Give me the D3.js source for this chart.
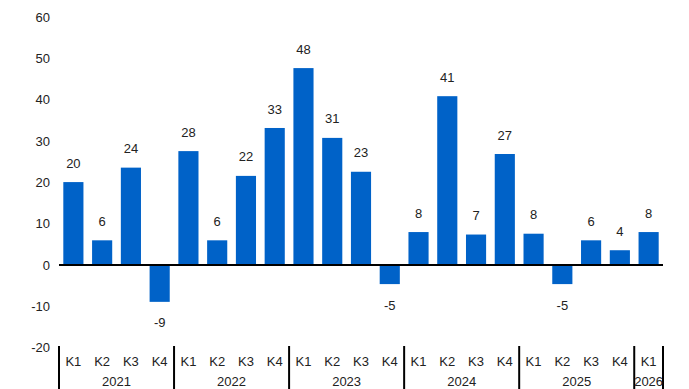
<!DOCTYPE html>
<html><head><meta charset="utf-8">
<script src="https://cdn.jsdelivr.net/npm/d3@7"></script>
<style>
html,body{margin:0;padding:0;background:#fff;}
svg text{font-family:"Liberation Sans",Arial,Helvetica,sans-serif;font-size:13px;fill:#222;}
</style></head>
<body>
<svg id="c" width="689" height="389"></svg>
<script>
const years = ["2021","2022","2023","2024","2025","2026"];
const quarters = ["K1","K2","K3","K4"];
const categories = [
  "2021 K1","2021 K2","2021 K3","2021 K4",
  "2022 K1","2022 K2","2022 K3","2022 K4",
  "2023 K1","2023 K2","2023 K3","2023 K4",
  "2024 K1","2024 K2","2024 K3","2024 K4",
  "2025 K1","2025 K2","2025 K3","2025 K4",
  "2026 K1"
];
const values = [
  20.1, 6.0, 23.6, -8.9,
  27.6, 6.0, 21.6, 33.2,
  47.7, 30.8, 22.6, -4.6,
  8.0, 40.9, 7.4, 26.9,
  7.6, -4.6, 6.0, 3.6,
  8.0
];
const yTicks = [-20,-10,0,10,20,30,40,50,60];

const svg = d3.select("#c");
const x = d3.scaleBand().domain(categories).range([59,663]).paddingInner(0.3).paddingOuter(0.15);
const y = d3.scaleLinear().domain([-20,60]).range([347.7,17.3]);
const barColor = "#0062c8";

// y tick labels
svg.append("g").selectAll("text").data(yTicks).join("text")
  .attr("x",50).attr("y",d=>y(d)).attr("dy","0.35em")
  .attr("text-anchor","end").text(d=>d);

// bars
svg.append("g").selectAll("rect").data(values).join("rect")
  .attr("x",(d,i)=>x(categories[i]))
  .attr("width",x.bandwidth())
  .attr("y",d=>y(Math.max(0,d)))
  .attr("height",d=>Math.abs(y(d)-y(0)))
  .attr("fill",barColor);

// value labels
svg.append("g").selectAll("text").data(values).join("text")
  .attr("x",(d,i)=>x(categories[i])+x.bandwidth()/2)
  .attr("y",d=> d>=0 ? y(d)-19 : y(d)+21)
  .attr("dy","0.35em")
  .attr("text-anchor","middle")
  .text(d=>Math.round(d));

// zero line
svg.append("line").attr("x1",59).attr("x2",663).attr("y1",y(0)).attr("y2",y(0))
  .attr("stroke","#000").attr("stroke-width",2);

// quarter labels
svg.append("g").selectAll("text").data(categories).join("text")
  .attr("x",d=>x(d)+x.bandwidth()/2).attr("y",361.5).attr("dy","0.35em")
  .attr("text-anchor","middle").text(d=>d.split(" ")[1]);

// year groups
const step = x.step();
const x0 = x.range()[0];
const yearInfo = years.map(yr=>{
  const idx = categories.map((c,i)=>c.startsWith(yr)?i:-1).filter(i=>i>=0);
  return {yr, start: x0 + idx[0]*step, end: x0 + (idx[idx.length-1]+1)*step};
});
const seps = yearInfo.map(d=>d.start).concat([yearInfo[yearInfo.length-1].end]);
svg.append("g").selectAll("line").data(seps).join("line")
  .attr("x1",d=>d).attr("x2",d=>d).attr("y1",346).attr("y2",389)
  .attr("stroke","#000").attr("stroke-width",2);
svg.append("g").selectAll("text").data(yearInfo).join("text")
  .attr("x",d=>(d.start+d.end)/2).attr("y",381).attr("dy","0.35em")
  .attr("text-anchor","middle").text(d=>d.yr);
</script>
</body></html>
